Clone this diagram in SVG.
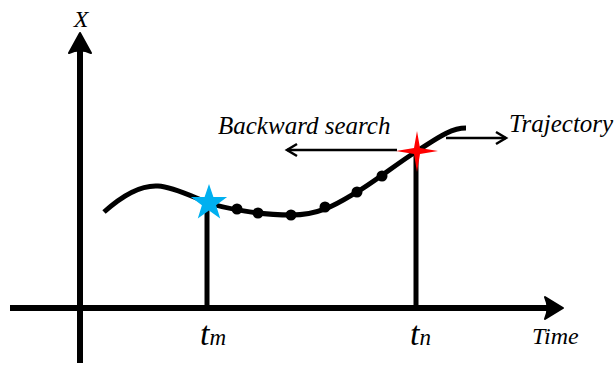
<svg xmlns="http://www.w3.org/2000/svg" width="615" height="371" viewBox="0 0 615 371">
<style>
.lbl{font-family:"Liberation Serif","Times New Roman",serif;font-style:italic;fill:#000}
.axis{stroke:#000;stroke-width:6;fill:none}
.tick{stroke:#000;stroke-width:5;fill:none}
.thin{stroke:#000;stroke-width:2.5;fill:none}
.dot{fill:#000}
</style>
<rect width="615" height="371" fill="#fff"/>
<g id="connectors">
<line class="axis" x1="80" y1="50" x2="80" y2="363"/>
<path d="M80,33 L91,53 Q80,48 69,53 Z" fill="#000" stroke="#000" stroke-width="2" stroke-linejoin="round"/>
<line class="axis" x1="10" y1="308" x2="548" y2="308"/>
<path d="M563,308 L545,297 Q550,308 545,319 Z" fill="#000" stroke="#000" stroke-width="2" stroke-linejoin="round"/>
<line class="tick" x1="207" y1="203" x2="207" y2="308"/>
<line class="tick" x1="416" y1="151" x2="416" y2="308"/>
<path d="M104,212 C124,194 142,185 158,186 S195,198 209,203 S260,215 291,215 S340,202 357,192 S398,163 417,151 S450,128 466,128" stroke="#000" stroke-width="5" fill="none"/>
<line class="thin" x1="397" y1="150" x2="287" y2="150"/>
<polyline class="thin" points="297,144 287,150 297,156"/>
<line class="thin" x1="446" y1="138" x2="506" y2="138"/>
<polyline class="thin" points="496,132 506,138 496,144"/>
</g>
<g id="dots">
<circle class="dot" cx="237" cy="209" r="5.5"/>
<circle class="dot" cx="258" cy="213" r="5.5"/>
<circle class="dot" cx="291" cy="215" r="5.5"/>
<circle class="dot" cx="325" cy="207" r="5.5"/>
<circle class="dot" cx="357" cy="192" r="5.5"/>
<circle class="dot" cx="382" cy="176" r="5.5"/>
</g>
<g id="star-m">
<polygon points="209,184 213.4,196.9 227.1,197.1 216.1,205.3 220.2,218.4 209,210.5 197.8,218.4 201.9,205.3 190.9,197.1 204.6,196.9" fill="#00B0F0"/>
</g>
<g id="star-n">
<polygon points="417,131 420,148 438,151 420,154 417,172 414,154 396,151 414,148" fill="#FF0000"/>
</g>
<g id="labels">
<text class="lbl" x="81" y="27" font-size="24" text-anchor="middle">X</text>
<text class="lbl" x="218" y="134" font-size="25">Backward search</text>
<text class="lbl" x="509" y="132" font-size="25">Trajectory</text>
<text class="lbl" x="200" y="345" font-size="34">t<tspan font-size="23">m</tspan></text>
<text class="lbl" x="410" y="345" font-size="34">t<tspan font-size="23">n</tspan></text>
<text class="lbl" x="532" y="344" font-size="24">Time</text>
</g>
</svg>
